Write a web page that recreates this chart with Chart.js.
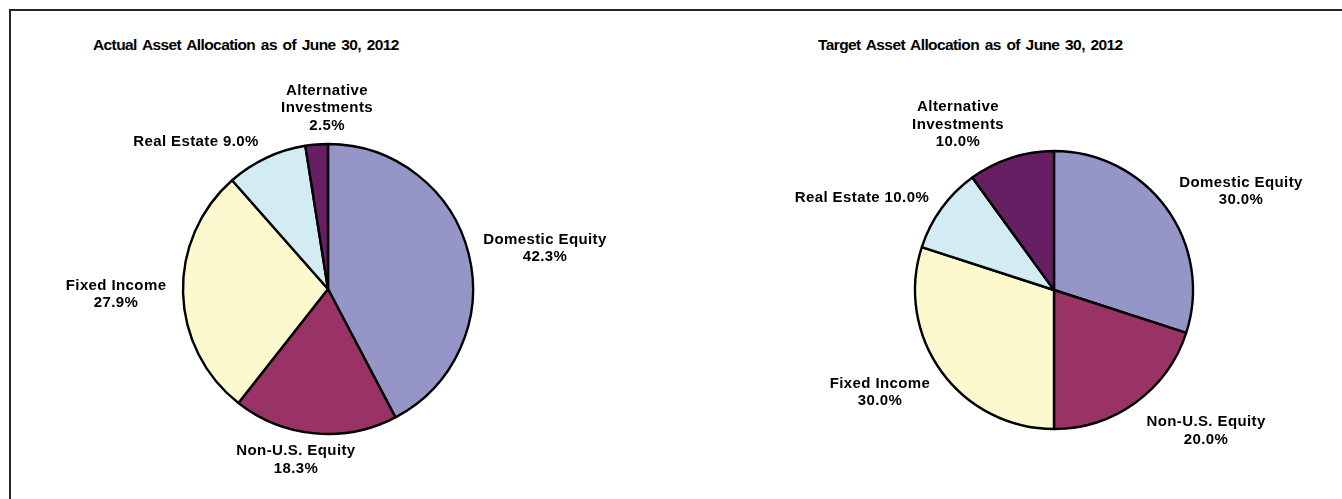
<!DOCTYPE html>
<html>
<head>
<meta charset="utf-8">
<script src="https://cdn.jsdelivr.net/npm/chart.js@4/dist/chart.umd.min.js"></script>
<style>
  html, body { margin:0; padding:0; background:#fff; }
  body { width:1342px; height:499px; position:relative; overflow:hidden; font-family:"Liberation Sans", Arial, sans-serif; }
  #frame { position:absolute; left:9px; top:9px; width:1400px; height:600px; border-top:2px solid #262626; border-left:2px solid #262626; }
  .title { position:absolute; font-weight:bold; font-size:15.5px; line-height:18px; color:#000; white-space:pre; letter-spacing:-0.6px; word-spacing:2px; }
  .box { position:absolute; top:0; width:671px; height:499px; }
</style>
</head>
<body>
<div id="frame"></div>
<div class="title" id="t1" style="left:93px; top:36px;"></div>
<div class="title" id="t2" style="left:818px; top:36px;"></div>
<div class="box" style="left:0"><canvas id="c1" width="671" height="499"></canvas></div>
<div class="box" style="left:671px"><canvas id="c2" width="671" height="499"></canvas></div>
<script>
// ---- data ----
const categories = ['Domestic Equity', 'Non-U.S. Equity', 'Fixed Income', 'Real Estate', 'Alternative Investments'];
const actualValues = [42.3, 18.3, 27.9, 9.0, 2.5];
const targetValues = [30.0, 20.0, 30.0, 10.0, 10.0];
const titleActual = 'Actual Asset Allocation as of June 30, 2012';
const titleTarget = 'Target Asset Allocation as of June 30, 2012';

// ---- styling / layout ----
const sliceColors = ['#9595C8', '#993366', '#FBF9CD', '#D3ECF3', '#651F62'];
const labelLines = [['Domestic Equity'], ['Non-U.S. Equity'], ['Fixed Income'], ['Real Estate'], ['Alternative', 'Investments']];
const pctInline = [false, false, false, true, false];

document.getElementById('t1').textContent = titleActual;
document.getElementById('t2').textContent = titleTarget;

const labelPlugin = {
  id: 'sliceLabels',
  afterDatasetsDraw(chart, args, opts) {
    const ctx = chart.ctx;
    const meta = chart.getDatasetMeta(0);
    const vals = chart.data.datasets[0].data;
    ctx.save();
    ctx.font = 'bold 15px "Liberation Sans", Arial, sans-serif';
    ctx.fillStyle = '#000';
    ctx.textAlign = 'center';
    ctx.textBaseline = 'middle';
    try { ctx.letterSpacing = '0.4px'; } catch (e) {}
    const lh = 17.5;
    meta.data.forEach((arc, i) => {
      const p = arc.getProps(['x', 'y', 'startAngle', 'endAngle', 'outerRadius'], true);
      const place = opts.placement[i];
      const a = (p.startAngle + p.endAngle) / 2 + place[0] * Math.PI / 180;
      const d = p.outerRadius * place[1];
      const lx = p.x + Math.cos(a) * d;
      const ly = p.y + Math.sin(a) * d;
      const pct = vals[i].toFixed(1) + '%';
      let lines = labelLines[i].slice();
      if (pctInline[i]) lines[lines.length - 1] += ' ' + pct; else lines.push(pct);
      const y0 = ly - (lines.length - 1) * lh / 2;
      lines.forEach((t, k) => ctx.fillText(t, lx, y0 + k * lh));
    });
    ctx.restore();
  }
};

function makePie(id, values, cx, cy, r, placement) {
  const bw = 2.4;
  const W = 671, H = 499;
  const half = r + bw / 2;
  return new Chart(document.getElementById(id), {
    type: 'pie',
    data: {
      labels: categories,
      datasets: [{ data: values, backgroundColor: sliceColors, borderColor: '#000', borderWidth: bw }]
    },
    options: {
      responsive: false,
      animation: false,
      layout: { padding: { left: cx - half, right: W - (cx + half), top: cy - half, bottom: H - (cy + half) } },
      plugins: {
        legend: { display: false },
        tooltip: { enabled: false },
        sliceLabels: { placement }
      }
    },
    plugins: [labelPlugin]
  });
}

// placement per slice: [angle shift in degrees, distance in radius units]
makePie('c1', actualValues, 328, 289, 145,
  [[3.3, 1.522], [5.4, 1.20], [0.2, 1.462], [-16.7, 1.363], [4.2, 1.248]]);
makePie('c2', targetValues, 1054 - 671, 290, 139,
  [[8.2, 1.521], [-11.2, 1.491], [5.5, 1.453], [-10.4, 1.532], [-12.1, 1.376]]);
</script>
</body>
</html>
